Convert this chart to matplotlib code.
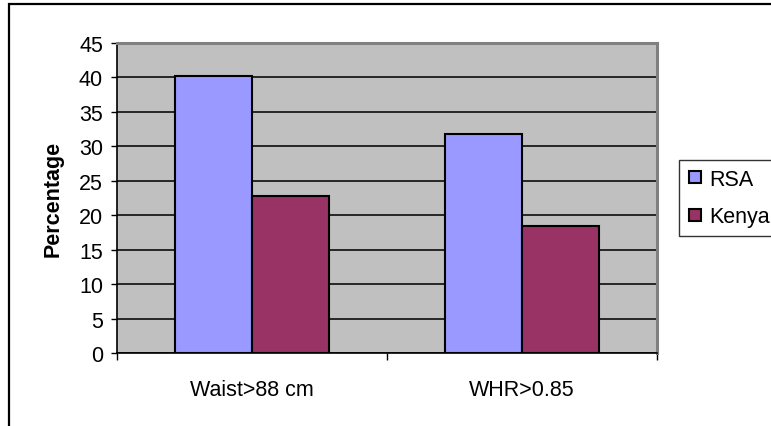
import matplotlib
matplotlib.use("Agg")
import matplotlib.pyplot as plt
import numpy as np
from matplotlib.lines import Line2D
from matplotlib.patches import Rectangle

categories = ["Waist>88 cm", "WHR>0.85"]
series_names = ["RSA", "Kenya"]
rsa_values = [40.2, 31.8]
kenya_values = [22.8, 18.5]
y_ticks = [0, 5, 10, 15, 20, 25, 30, 35, 40, 45]

colors = ["#9999FF", "#993366"]

plt.rcParams["font.family"] = ["Liberation Sans", "DejaVu Sans"]
FS = 15.5

W, H = 771, 427
fig = plt.figure(figsize=(W / 100, H / 100), dpi=100)
ax = fig.add_axes([117 / W, 1 - 354 / H, 540 / W, 310 / H])
ax.set_facecolor("#C0C0C0")

x = np.arange(len(categories))
bw = 1 / 3.5
for i, (vals, col, name) in enumerate(zip([rsa_values, kenya_values], colors, series_names)):
    ax.bar(x - bw / 2 + i * bw, vals, width=bw, color=col, edgecolor="black",
           linewidth=1.5, zorder=3, label=name)

ax.set_xlim(-0.5, len(categories) - 0.5)
ax.set_ylim(0, 45)
ax.set_yticks(y_ticks)
ax.set_yticklabels([str(v) for v in y_ticks], fontsize=FS)
ax.yaxis.grid(True, color="#1a1a1a", linewidth=1.3, zorder=1)
ax.set_axisbelow(True)

# Category labels sit between boundary ticks
ax.set_xticks(np.arange(-0.5, len(categories), 1.0))
ax.set_xticklabels([])
ax.set_xticks(x, minor=True)
ax.set_xticklabels(categories, minor=True, fontsize=FS)
ax.tick_params(axis="x", which="minor", length=0, pad=18.5)
ax.tick_params(axis="x", which="major", length=5, width=1, direction="out", color="black")
ax.tick_params(axis="y", length=4, width=1, direction="out", pad=6, color="black")

ax.set_ylabel("Percentage", fontsize=FS, fontweight="bold", labelpad=11)

for side in ["left", "bottom"]:
    ax.spines[side].set_color("black")
    ax.spines[side].set_linewidth(1.2)
for side in ["top", "right"]:
    ax.spines[side].set_color("#808080")
    ax.spines[side].set_linewidth(2.2)

handles = [Line2D([], [], linestyle="none", marker="s", markersize=9,
                  markerfacecolor=c, markeredgecolor="black", markeredgewidth=1.5)
           for c in colors]
leg = fig.legend(handles, series_names, loc="upper left",
                 bbox_to_anchor=(679 / W, 1 - 161 / H), fontsize=FS,
                 frameon=True, fancybox=False, edgecolor="black",
                 handlelength=0.7, handletextpad=0.3, borderpad=0.4,
                 labelspacing=0.78, borderaxespad=0)
leg.get_frame().set_linewidth(1.0)

# Outer chart frame
fig.patches.append(Rectangle((9 / W, -0.1), 1.2, 1 - 5 / H + 0.1,
                             transform=fig.transFigure, fill=False,
                             edgecolor="black", linewidth=1.6))

fig.savefig("out.png", dpi=100)
